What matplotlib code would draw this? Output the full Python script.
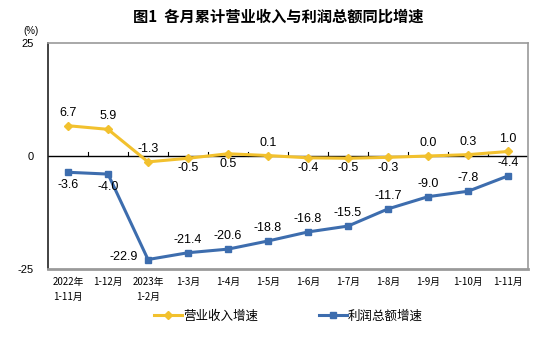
import matplotlib.pyplot as plt
from matplotlib.lines import Line2D

plt.rcParams['font.family'] = ['Liberation Sans', 'Noto Sans CJK SC', 'DejaVu Sans']

# periods (tick labels) and both growth series, %
periods = ['2022年\n1-11月', '1-12月', '2023年\n1-2月', '1-3月', '1-4月', '1-5月',
           '1-6月', '1-7月', '1-8月', '1-9月', '1-10月', '1-11月']
revenue = [6.7, 5.9, -1.3, -0.5, 0.5, 0.1, -0.4, -0.5, -0.3, 0.0, 0.3, 1.0]
profit = [-3.6, -4.0, -22.9, -21.4, -20.6, -18.8, -16.8, -15.5, -11.7, -9.0, -7.8, -4.4]

# where each revenue label goes: 1 above, -1 below
rev_side = [1, 1, 1, -1, -1, 1, -1, -1, -1, 1, 1, 1]

yellow = '#F2C12E'
blue = '#3D6DAE'

fig = plt.figure(figsize=(5.57, 3.49), dpi=100)
ax = fig.add_axes([0.0862, 0.2292, 0.8618, 0.6476])

x = list(range(len(periods)))
ax.plot(x, revenue, color=yellow, lw=2.2, marker='D', ms=4, zorder=3)
ax.plot(x, profit, color=blue, lw=2.2, marker='s', ms=4, zorder=3)

ax.set_xlim(-0.5, 11.5)
ax.set_ylim(-25, 25)

# zero line with small ticks between categories
ax.axhline(0, color='black', lw=1, zorder=2)
for b in range(1, len(periods)):
    ax.plot([b - 0.5, b - 0.5], [0, 0.9], color='black', lw=0.8, zorder=2)

for i, v in enumerate(revenue):
    if rev_side[i] > 0:
        ax.annotate(f'{v:.1f}', (i, v), xytext=(0, 5), textcoords='offset points',
                    ha='center', va='bottom', fontsize=9)
    else:
        ax.annotate(f'{v:.1f}', (i, v), xytext=(0, -3), textcoords='offset points',
                    ha='center', va='top', fontsize=9)

for i, v in enumerate(profit):
    if i < 2:
        ax.annotate(f'{v:.1f}', (i, v), xytext=(0, -5), textcoords='offset points',
                    ha='center', va='top', fontsize=9)
    elif i == 2:
        ax.annotate(f'{v:.1f}', (i, v), xytext=(-7, 2), textcoords='offset points',
                    ha='right', va='center', fontsize=9)
    else:
        ax.annotate(f'{v:.1f}', (i, v), xytext=(0, 5), textcoords='offset points',
                    ha='center', va='bottom', fontsize=9)

ax.set_xticks(x)
ax.set_xticklabels(periods, fontsize=7, linespacing=1.6,
                   family=['Noto Sans CJK SC', 'DejaVu Sans'])
ax.tick_params(axis='x', length=0, pad=6)
ax.set_yticks([-25, 0, 25])
ax.set_yticklabels(['-25', '0', '25'], fontsize=8)
ax.tick_params(axis='y', length=0, pad=10)

ax.spines['left'].set_color('#222222')
ax.spines['left'].set_linewidth(1.2)
for s in ['top', 'right']:
    ax.spines[s].set_color('#9a9a9a')
    ax.spines[s].set_linewidth(1.2)
ax.spines['bottom'].set_color('#9a9a9a')
ax.spines['bottom'].set_linewidth(2)

fig.text(0.056, 0.91, '(%)', fontsize=7, ha='center', va='center')
fig.text(0.5, 0.952, '图1  各月累计营业收入与利润总额同比增速', fontsize=11,
         fontweight='bold', ha='center', va='center',
         family=['Noto Sans CJK SC', 'DejaVu Sans'])

handles = [Line2D([], [], color=yellow, lw=2.2, marker='D', ms=4),
           Line2D([], [], color=blue, lw=2.2, marker='s', ms=4)]
fig.legend(handles, ['营业收入增速', '利润总额增速'], loc='center',
           bbox_to_anchor=(0.518, 0.094), ncol=2, frameon=False,
           handlelength=2.2, handletextpad=0.1, columnspacing=4.9,
           prop={'family': ['Noto Sans CJK SC', 'DejaVu Sans'], 'size': 9})

fig.savefig('out.png', dpi=100)
